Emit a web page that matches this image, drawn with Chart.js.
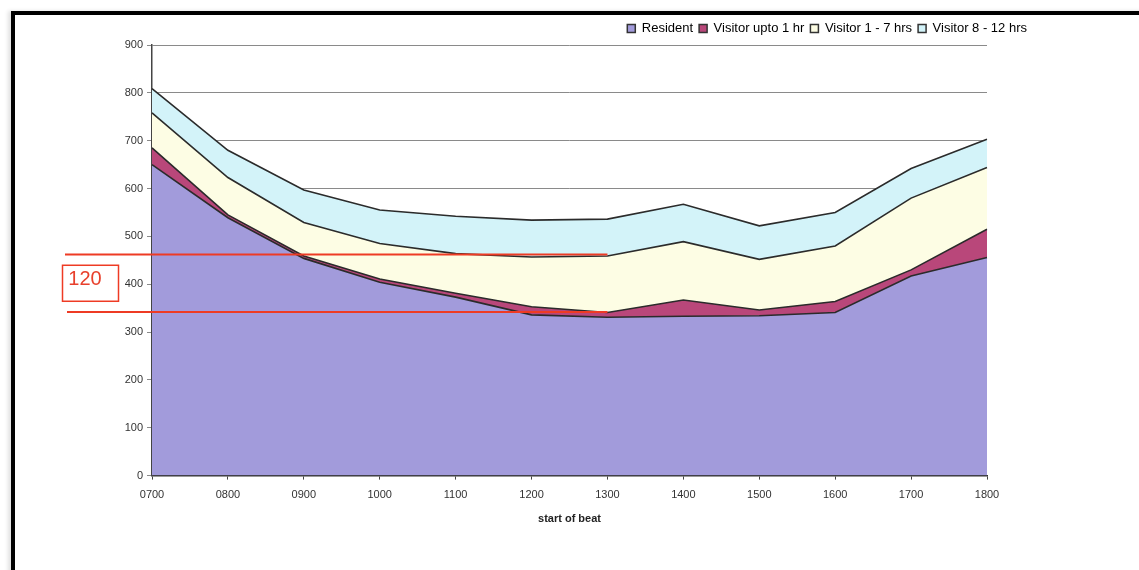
<!DOCTYPE html>
<html>
<head>
<meta charset="utf-8">
<script src="https://cdn.jsdelivr.net/npm/chart.js@4"></script>
<style>
  html, body { margin: 0; padding: 0; background: #ffffff; overflow: hidden; }
  #wrap { position: absolute; left: 0; top: 0; width: 1139px; height: 570px; }
  #frame {
    position: absolute; left: 11px; top: 11px; width: 1200px; height: 620px;
    border: 4px solid #000; box-shadow: -3px 0 4px rgba(0,0,0,0.12);
    pointer-events: none;
  }
</style>
</head>
<body>
<div id="wrap"><canvas id="c" width="1139" height="570"></canvas></div>
<div id="frame"></div>
<script>
// Beat start times
const beats = ['0700','0800','0900','1000','1100','1200','1300','1400','1500','1600','1700','1800'];
// Vehicles parked, by type of parker (stacked)
const resident   = [650, 539, 454, 404, 373, 336, 331, 333, 334, 341, 417, 456];
const upTo1Hr    = [35, 6, 5, 7, 8, 17, 10, 34, 12, 23, 13, 59];
const oneTo7Hrs  = [73, 78, 70, 74, 83, 104, 118, 122, 106, 116, 150, 129];
const eightTo12  = [51, 57, 68, 70, 78, 77, 77, 78, 70, 70, 62, 59];
// Y-axis ticks
const yTicks = [0, 100, 200, 300, 400, 500, 600, 700, 800, 900];
// Marked band on the stack at 1300: upper and lower level
const bandUpper = 462;
const bandLower = 342;
const bandEndBeat = '1300';

const edge = '#2b2b2b';
function series(label, data, fill, color) {
  return {
    label, data, fill,
    backgroundColor: color,
    borderColor: edge,
    borderWidth: 1.6,
    pointRadius: 0,
    tension: 0
  };
}

// Red reference lines and the boxed gap value
const bandMarker = {
  id: 'bandMarker',
  afterDatasetsDraw(chart) {
    const { ctx, scales: { x, y } } = chart;
    const yTop = y.getPixelForValue(bandUpper);
    const yBot = y.getPixelForValue(bandLower);
    const xEnd = x.getPixelForValue(beats.indexOf(bandEndBeat));
    ctx.save();
    ctx.strokeStyle = '#ee3b24';
    ctx.lineWidth = 2;
    ctx.beginPath();
    ctx.moveTo(65, yTop); ctx.lineTo(xEnd, yTop);
    ctx.moveTo(67, yBot); ctx.lineTo(xEnd, yBot);
    ctx.stroke();
    const mid = (yTop + yBot) / 2;
    ctx.lineWidth = 1.5;
    ctx.strokeRect(62.5, mid - 18, 56, 36);
    ctx.fillStyle = '#e8402c';
    ctx.font = '20px "Liberation Sans", Arial, sans-serif';
    ctx.textAlign = 'center';
    ctx.textBaseline = 'middle';
    ctx.fillText(String(bandUpper - bandLower), 85, mid - 4);
    ctx.restore();
  }
};

const font = { family: '"Liberation Sans", Arial, sans-serif', size: 11 };

new Chart(document.getElementById('c'), {
  type: 'line',
  data: {
    labels: beats,
    datasets: [
      series('Resident', resident, 'origin', '#a29bdb'),
      series('Visitor upto 1 hr', upTo1Hr, '-1', '#b9477a'),
      series('Visitor 1 - 7 hrs', oneTo7Hrs, '-1', '#fdfde4'),
      series('Visitor 8 - 12 hrs', eightTo12, '-1', '#d3f3f9')
    ]
  },
  options: {
    responsive: false,
    animation: false,
    layout: { padding: { top: 16, right: 106, bottom: 40, left: 0 } },
    plugins: {
      tooltip: { enabled: false },
      legend: {
        position: 'top',
        align: 'end',
        labels: {
          font: { family: font.family, size: 13 },
          color: '#111',
          boxWidth: 8,
          boxHeight: 8,
          padding: 6,
          generateLabels(chart) {
            return chart.data.datasets.map((d, i) => ({
              text: d.label,
              fillStyle: d.backgroundColor,
              strokeStyle: '#333',
              lineWidth: 1.5,
              datasetIndex: i
            }));
          }
        }
      }
    },
    scales: {
      x: {
        offset: false,
        grid: { display: true, drawOnChartArea: false, tickLength: 4, color: '#444' },
        border: { display: true, color: '#333', width: 1.5 },
        ticks: { font: font, color: '#333', padding: 9, maxRotation: 0, autoSkip: false },
        title: {
          display: true,
          text: 'start of beat',
          font: { family: font.family, size: 11, weight: 'bold' },
          color: '#222',
          padding: { top: 2 }
        }
      },
      y: {
        stacked: true,
        min: 0,
        max: 900,
        afterFit(s) { s.width = 152; },
        afterBuildTicks(s) { s.ticks = yTicks.map(v => ({ value: v })); },
        grid: { color: '#8a8a8a', lineWidth: 1, tickLength: 5, drawTicks: true },
        border: { display: true, color: '#444', width: 1.5 },
        ticks: { font: font, color: '#333', padding: 4 }
      },
      pad: {
        position: 'right',
        display: true,
        afterFit(s) { s.width = 46; },
        grid: { display: false },
        border: { display: false },
        ticks: { display: false }
      }
    }
  },
  plugins: [bandMarker]
});
</script>
</body>
</html>
